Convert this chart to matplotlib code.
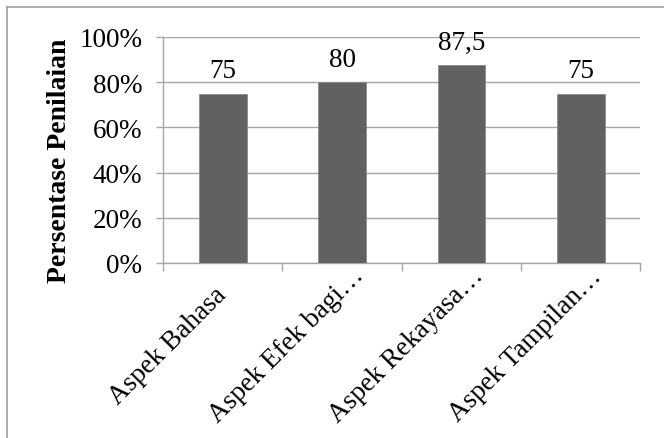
import matplotlib
matplotlib.use("Agg")
import matplotlib.pyplot as plt
from matplotlib.lines import Line2D
from matplotlib.transforms import ScaledTranslation
import numpy as np

categories = ["Aspek Bahasa", "Aspek Efek bagi…", "Aspek Rekayasa…", "Aspek Tampilan…"]
values = [0.75, 0.80, 0.875, 0.75]
value_labels = ["75", "80", "87,5", "75"]
y_ticks = [0, 0.2, 0.4, 0.6, 0.8, 1.0]
y_tick_labels = ["0%", "20%", "40%", "60%", "80%", "100%"]

plt.rcParams['font.family'] = ['Liberation Serif', 'DejaVu Serif']

fig = plt.figure(figsize=(6.64, 4.39), dpi=100)
ax = fig.add_axes([163/664, 1-264/439, (640.5-163)/664, (264-38)/439])

x = np.arange(len(categories))
bars = ax.bar(x, values, width=0.4, color="#616161", edgecolor="#8a8a8a", linewidth=0.6, zorder=3)

for xi, v, lab in zip(x, values, value_labels):
    ax.annotate(lab, (xi, v), xytext=(0, 12), textcoords="offset points",
                ha="center", va="baseline", fontsize=19.5, color="black")

ax.set_xlim(-0.5, len(categories) - 0.5)
ax.set_ylim(0, 1.0)
ax.set_yticks(y_ticks)
ax.set_yticklabels(y_tick_labels, fontsize=19.5)
ax.yaxis.grid(True, color="#a6a6a6", linewidth=1.0, zorder=0)
ax.set_axisbelow(True)

ax.set_xticks(np.arange(-0.5, len(categories), 1.0))
ax.set_xticklabels([])
ax.set_xticks(x, minor=True)
ax.set_xticklabels(categories, minor=True, rotation=45, ha="center", va="center",
                   rotation_mode="anchor", fontsize=19.5)
ax.tick_params(axis="x", which="minor", length=0, pad=59)
ax.tick_params(axis="x", which="major", length=6, color="#a6a6a6", width=1.0)
ax.tick_params(axis="y", length=5, color="#a6a6a6", width=1.0, pad=10)
shift = ScaledTranslation(-0.55, 0, fig.dpi_scale_trans)
for lab in ax.get_xticklabels(minor=True):
    lab.set_transform(lab.get_transform() + shift)

for s in ["top", "right"]:
    ax.spines[s].set_visible(False)
for s in ["left", "bottom"]:
    ax.spines[s].set_color("#a6a6a6")
    ax.spines[s].set_linewidth(1.0)

ax.set_ylabel("Persentase Penilaian", fontsize=20, fontweight="bold")
ax.yaxis.set_label_coords(-0.19, 0.455)

# outer chart border (top and left visible)
fig.add_artist(Line2D([7/664, 1.0], [1-8/439, 1-8/439], transform=fig.transFigure,
                      color="#a0a0a0", linewidth=1.2))
fig.add_artist(Line2D([7/664, 7/664], [0, 1-8/439], transform=fig.transFigure,
                      color="#a0a0a0", linewidth=1.2))

fig.savefig("out.png", dpi=100)
